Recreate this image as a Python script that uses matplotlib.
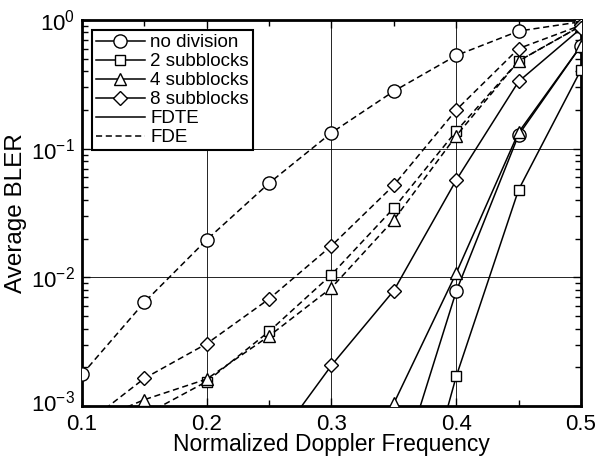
import numpy as np
import matplotlib
matplotlib.use("Agg")
import matplotlib.pyplot as plt
import matplotlib.transforms as mtransforms
from matplotlib.lines import Line2D
from matplotlib.ticker import LogLocator, FixedLocator, NullFormatter

plt.rcParams['font.family'] = ['Liberation Sans', 'DejaVu Sans']
plt.rcParams['mathtext.fontset'] = 'custom'
plt.rcParams['mathtext.rm'] = 'Liberation Sans'
plt.rcParams['mathtext.it'] = 'Liberation Sans:italic'

nan = np.nan
doppler = [0.10, 0.15, 0.20, 0.25, 0.30, 0.35, 0.40, 0.45, 0.50]

# FDE (dashed)
nodiv_fde = [1.76e-3, 6.4e-3, 0.0196, 0.054, 0.133, 0.28, 0.53, 0.82, 0.97]
sb2_fde = [6.0e-4, 8.5e-4, 1.55e-3, 3.8e-3, 0.0105, 0.0346, 0.137, 0.48, 0.90]
sb4_fde = [7.0e-4, 1.12e-3, 1.62e-3, 3.5e-3, 0.0083, 0.028, 0.126, 0.48, 0.90]
sb8_fde = [6.9e-4, 1.64e-3, 3.05e-3, 6.8e-3, 0.0176, 0.052, 0.20, 0.60, 0.91]

# FDTE (solid)
nodiv_fdte = [nan, nan, nan, nan, nan, 2.2e-4, 7.8e-3, 0.128, 0.63]
sb2_fdte = [nan, nan, nan, nan, nan, 3.0e-5, 1.7e-3, 0.048, 0.41]
sb4_fdte = [nan, nan, nan, nan, nan, 1.05e-3, 0.0108, 0.134, 0.63]
sb8_fdte = [nan, nan, nan, 4.5e-4, 2.07e-3, 7.9e-3, 0.057, 0.333, 0.86]

labels = ['no division', '2 subblocks', '4 subblocks', '8 subblocks', 'FDTE', 'FDE']
markers = ['o', 's', '^', 'D']
msizes = [9.5, 7.5, 8.5, 7.0]

fig = plt.figure(figsize=(6.03, 4.61), dpi=100)
ax = fig.add_axes([0.136, 0.1193, 0.8275, 0.8373])

lw = 1.1
dash = (0, (4.0, 2.4))
fde_sets = [nodiv_fde, sb2_fde, sb4_fde, sb8_fde]
fdte_sets = [nodiv_fdte, sb2_fdte, sb4_fdte, sb8_fdte]
for data, m, ms in zip(fde_sets, markers, msizes):
    ax.plot(doppler, data, color='black', lw=lw, linestyle=dash, marker=m,
            markersize=ms, markerfacecolor='white', markeredgecolor='black',
            markeredgewidth=1.0, zorder=3)
for data, m, ms in zip(fdte_sets, markers, msizes):
    ax.plot(doppler, data, color='black', lw=lw, linestyle='-', marker=m,
            markersize=ms, markerfacecolor='white', markeredgecolor='black',
            markeredgewidth=1.0, zorder=3)

ax.set_yscale('log')
ax.set_xlim(0.1, 0.5)
ax.set_ylim(1e-3, 1e0)

ax.xaxis.set_major_locator(FixedLocator([0.1, 0.2, 0.3, 0.4, 0.5]))
ax.xaxis.set_minor_locator(FixedLocator([0.15, 0.25, 0.35, 0.45]))
ax.set_xticklabels(['0.1', '0.2', '0.3', '0.4', '0.5'])
ax.yaxis.set_major_locator(FixedLocator([1e-3, 1e-2, 1e-1, 1e0]))
ax.yaxis.set_minor_locator(LogLocator(base=10, subs=np.arange(2, 10), numticks=20))
ax.yaxis.set_minor_formatter(NullFormatter())
ax.set_yticklabels([r'$10^{-3}$', r'$10^{-2}$', r'$10^{-1}$', r'$10^{0}$'])

ax.tick_params(which='both', direction='in', top=True, right=True, labelsize=16, colors='black')
ax.tick_params(which='major', length=6, width=1.0)
ax.tick_params(axis='y', which='major', pad=5)
ax.tick_params(axis='x', which='major', pad=6)
ax.tick_params(which='minor', length=4, width=1.0)

# nudge the lowest y label up a little so it does not collide with "0.1"
ylab0 = ax.get_yticklabels()[0]
ylab0.set_transform(ylab0.get_transform() + mtransforms.ScaledTranslation(0, 5 / 100, fig.dpi_scale_trans))

ax.grid(True, which='major', color='black', lw=0.6)
for s in ax.spines.values():
    s.set_linewidth(2.0)

ax.set_xlabel('Normalized Doppler Frequency', fontsize=16.5, labelpad=-1.5)
ax.set_ylabel('Average BLER', fontsize=17.5, labelpad=3)

handles = []
for m, ms in zip(markers, msizes):
    handles.append(Line2D([], [], color='black', lw=lw, marker=m, markersize=ms,
                          markerfacecolor='white', markeredgecolor='black', markeredgewidth=1.0))
handles.append(Line2D([], [], color='black', lw=lw, linestyle='-'))
handles.append(Line2D([], [], color='black', lw=lw, linestyle=dash))
leg = ax.legend(handles, labels, loc='upper left', bbox_to_anchor=(0.0, 1.0),
                fontsize=13.5, frameon=True, fancybox=False, framealpha=1,
                edgecolor='black', handlelength=2.6, handletextpad=0.3,
                labelspacing=0.1, borderpad=0.2, borderaxespad=0.55)
leg.get_frame().set_linewidth(1.5)
leg.set_zorder(5)

fig.savefig('out.png', dpi=100)
